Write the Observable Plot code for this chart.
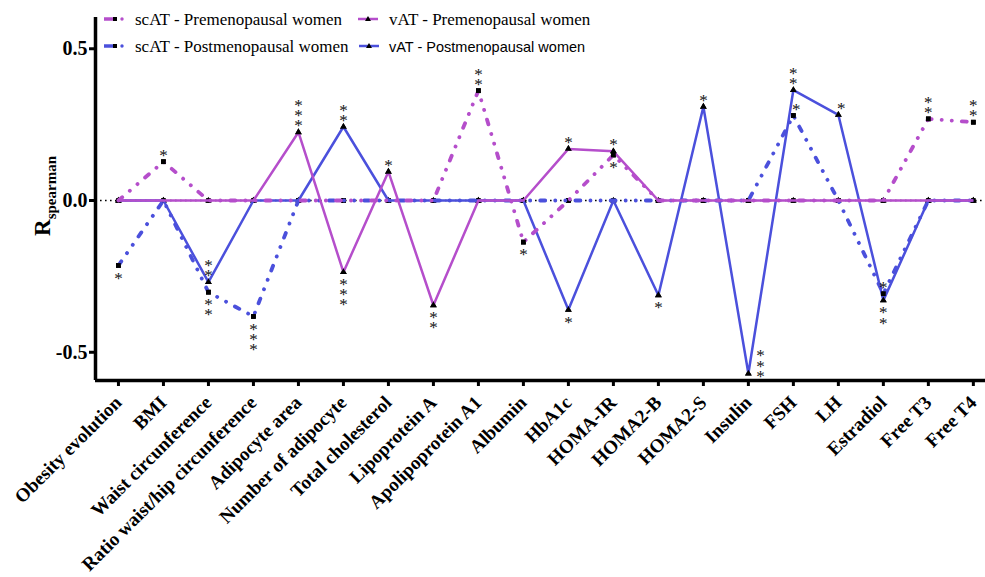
<!DOCTYPE html>
<html><head><meta charset="utf-8">
<script src="https://cdn.jsdelivr.net/npm/d3@7"></script>
<script src="https://cdn.jsdelivr.net/npm/@observablehq/plot@0.6"></script>
<style>
body{margin:0;background:#fff;}
#wrap{position:relative;width:985px;height:577px;}
</style></head><body><div id="wrap"></div>
<script>
// ---------- data ----------
const categories = ["Obesity evolution","BMI","Waist circunference","Ratio waist/hip circunference","Adipocyte area","Number of adipocyte","Total cholesterol","Lipoprotein A","Apolipoprotein A1","Albumin","HbA1c","HOMA-IR","HOMA2-B","HOMA2-S","Insulin","FSH","LH","Estradiol","Free T3","Free T4"];
const seriesNames = ["scAT - Premenopausal women","scAT - Postmenopausal women","vAT - Premenopausal women","vAT - Postmenopausal women"];
const scATPre  = [0, 0.128, 0, 0, 0, 0, 0, 0, 0.362, -0.137, 0, 0.150, 0, 0, 0, 0, 0, 0, 0.269, 0.258];
const scATPost = [-0.214, 0, -0.302, -0.382, 0, 0, 0, 0, 0, 0, 0, 0, 0, 0, 0, 0.280, 0, -0.307, 0, 0];
const vATPre   = [0, 0, 0, 0, 0.225, -0.236, 0.095, -0.345, 0, 0, 0.170, 0.162, 0, 0, 0, 0, 0, 0, 0, 0];
const vATPost  = [0, 0, -0.269, 0, 0, 0.243, 0, 0, 0, 0, -0.360, 0, -0.312, 0.309, -0.570, 0.364, 0.282, -0.329, 0, 0];
const yTicks = [-0.5, 0, 0.5];
const yTickLabels = ["-0.5", "0.0", "0.5"];
// significance stars: series index (0 scATPre,1 scATPost,2 vATPre,3 vATPost), category index, number of stars, placement
const sigSeries = [0,0,0,0,0,0, 1,1,1,1,1, 2,2,2,2,2,2, 3,3,3,3,3,3,3,3,3];
const sigCat    = [1,8,9,11,18,19, 0,2,3,15,17, 4,5,6,7,10,11, 2,5,10,12,13,14,15,16,17];
const sigLevel  = [1,2,1,1,2,2, 1,2,3,1,1, 3,3,1,2,1,1, 2,2,1,1,1,3,2,1,2];
const sigPos    = ["above","above","below","below","above","above",
                   "below","below","below","aboveRight","above",
                   "above","below","above","below","above","above",
                   "above","above","below","below","above","right","above","aboveRight","below"];

// ---------- build ----------
const MAG = "#b54ecb", BLU = "#4b50dc";
const seriesValues = [scATPre, scATPost, vATPre, vATPost];
const seriesColor = [MAG, BLU, MAG, BLU];
const seriesDashed = [true, true, false, false];
const rows = seriesValues.map((vals, s) => vals.map((v, i) => ({s, i, v})));
const sig = sigCat.map((c, k) => ({i: c, v: seriesValues[sigSeries[k]][c], text: Array(sigLevel[k]).fill("*").join("\n"), pos: sigPos[k]}));

const xDomain = [-0.51, 19.27];
const yDomain = [-0.593, 0.603];
const drawOrder = [3, 1, 2, 0];

const lineMarks = drawOrder.map(s => Plot.line(rows[s], {
  x: "i", y: "v", stroke: seriesColor[s],
  strokeWidth: seriesDashed[s] ? 3.8 : 2.5,
  strokeDasharray: seriesDashed[s] ? "5,10,0.1,10,0.1,10" : null,
  strokeLinecap: seriesDashed[s] ? "round" : "butt",
  strokeLinejoin: "round"
}));
const dotMarks = (filter) => [0,1,2,3].map(s => Plot.dot(rows[s].filter(filter), {
  x: "i", y: "v", symbol: s < 2 ? "square" : "triangle", r: s < 2 ? 2.7 : 2.5, fill: "black", stroke: "none"
}));
const starOpts = {x: "i", y: "v", text: "text", lineHeight: 0.59, fontSize: 17, fill: "#111"};

const chart = Plot.plot({
  width: 985, height: 577,
  marginLeft: 95, marginRight: 0, marginTop: 17, marginBottom: 197,
  style: {fontFamily: "'Liberation Serif', 'Times New Roman', serif", background: "white", color: "black"},
  x: {type: "linear", domain: xDomain},
  y: {domain: yDomain},
  marks: [
    Plot.ruleY([0], {stroke: "black", strokeWidth: 1.6, strokeDasharray: "1.6,3.4"}),
    ...dotMarks(() => true),
    ...lineMarks,
    ...dotMarks(d => d.v !== 0),
    Plot.text(sig.filter(d => d.pos === "above"), {...starOpts, lineAnchor: "bottom", dy: -1}),
    Plot.text(sig.filter(d => d.pos === "below"), {...starOpts, lineAnchor: "top", dy: 11}),
    Plot.text(sig.filter(d => d.pos === "aboveRight"), {...starOpts, lineAnchor: "bottom", dy: -1, dx: 3}),
    Plot.text(sig.filter(d => d.pos === "right"), {...starOpts, lineAnchor: "bottom", dy: 8, dx: 12}),
    Plot.ruleX([xDomain[0]], {y1: yDomain[0], y2: yDomain[1], stroke: "black", strokeWidth: 3.5}),
    Plot.ruleY([yDomain[0]], {x1: xDomain[0], x2: xDomain[1], stroke: "black", strokeWidth: 3.5}),
    Plot.axisY(yTicks, {tickFormat: d => yTickLabels[yTicks.indexOf(d)], tickSize: 6, tickPadding: 2, strokeWidth: 3, fontSize: 20, fontWeight: "bold", label: null}),
    Plot.axisX(d3.range(categories.length), {tickFormat: i => categories[i], tickRotate: -45, tickSize: 6, tickPadding: 13, strokeWidth: 3, fontSize: 19, fontWeight: "bold", label: null})
  ]
});
document.getElementById("wrap").appendChild(chart);

// y-axis label with subscript
const svg = d3.select(chart);
const yl = svg.append("text").attr("transform", "translate(50,196) rotate(-90)")
  .attr("text-anchor", "middle").attr("font-family", "'Liberation Serif', serif").attr("font-weight", "bold").attr("fill", "black");
yl.append("tspan").attr("font-size", 23).text("R");
yl.append("tspan").attr("font-size", 15).attr("dy", 6).text("spearman");

// legend
const lg = svg.append("g").attr("text-anchor", "start");
const legendItems = [
  {name: seriesNames[0], s: 0, x: 104, y: 19, font: "'Liberation Serif', serif", size: 17},
  {name: seriesNames[2], s: 2, x: 358, y: 19, font: "'Liberation Serif', serif", size: 17},
  {name: seriesNames[1], s: 1, x: 104, y: 46, font: "'Liberation Serif', serif", size: 17},
  {name: seriesNames[3], s: 3, x: 359, y: 46, font: "'Liberation Sans', Arial, sans-serif", size: 14.5}
];
legendItems.forEach(it => {
  const c = seriesColor[it.s];
  if (seriesDashed[it.s]) {
    lg.append("line").attr("x1", it.x).attr("x2", it.x + 12).attr("y1", it.y).attr("y2", it.y).attr("stroke", c).attr("stroke-width", 3.5);
    lg.append("rect").attr("x", it.x + 9).attr("y", it.y - 2).attr("width", 4).attr("height", 4).attr("fill", "black");
    lg.append("circle").attr("cx", it.x + 18).attr("cy", it.y).attr("r", 1.7).attr("fill", c);
  } else {
    lg.append("line").attr("x1", it.x).attr("x2", it.x + 20).attr("y1", it.y).attr("y2", it.y).attr("stroke", c).attr("stroke-width", 2.5);
    lg.append("path").attr("d", `M${it.x + 10},${it.y - 3}L${it.x + 13},${it.y + 2}L${it.x + 7},${it.y + 2}Z`).attr("fill", "black");
  }
  lg.append("text").attr("x", it.s < 2 ? 135 : 389).attr("y", it.y + 6).attr("text-anchor", "start").attr("font-family", it.font).attr("font-size", it.size).attr("fill", "black").text(it.name);
});
</script></body></html>
